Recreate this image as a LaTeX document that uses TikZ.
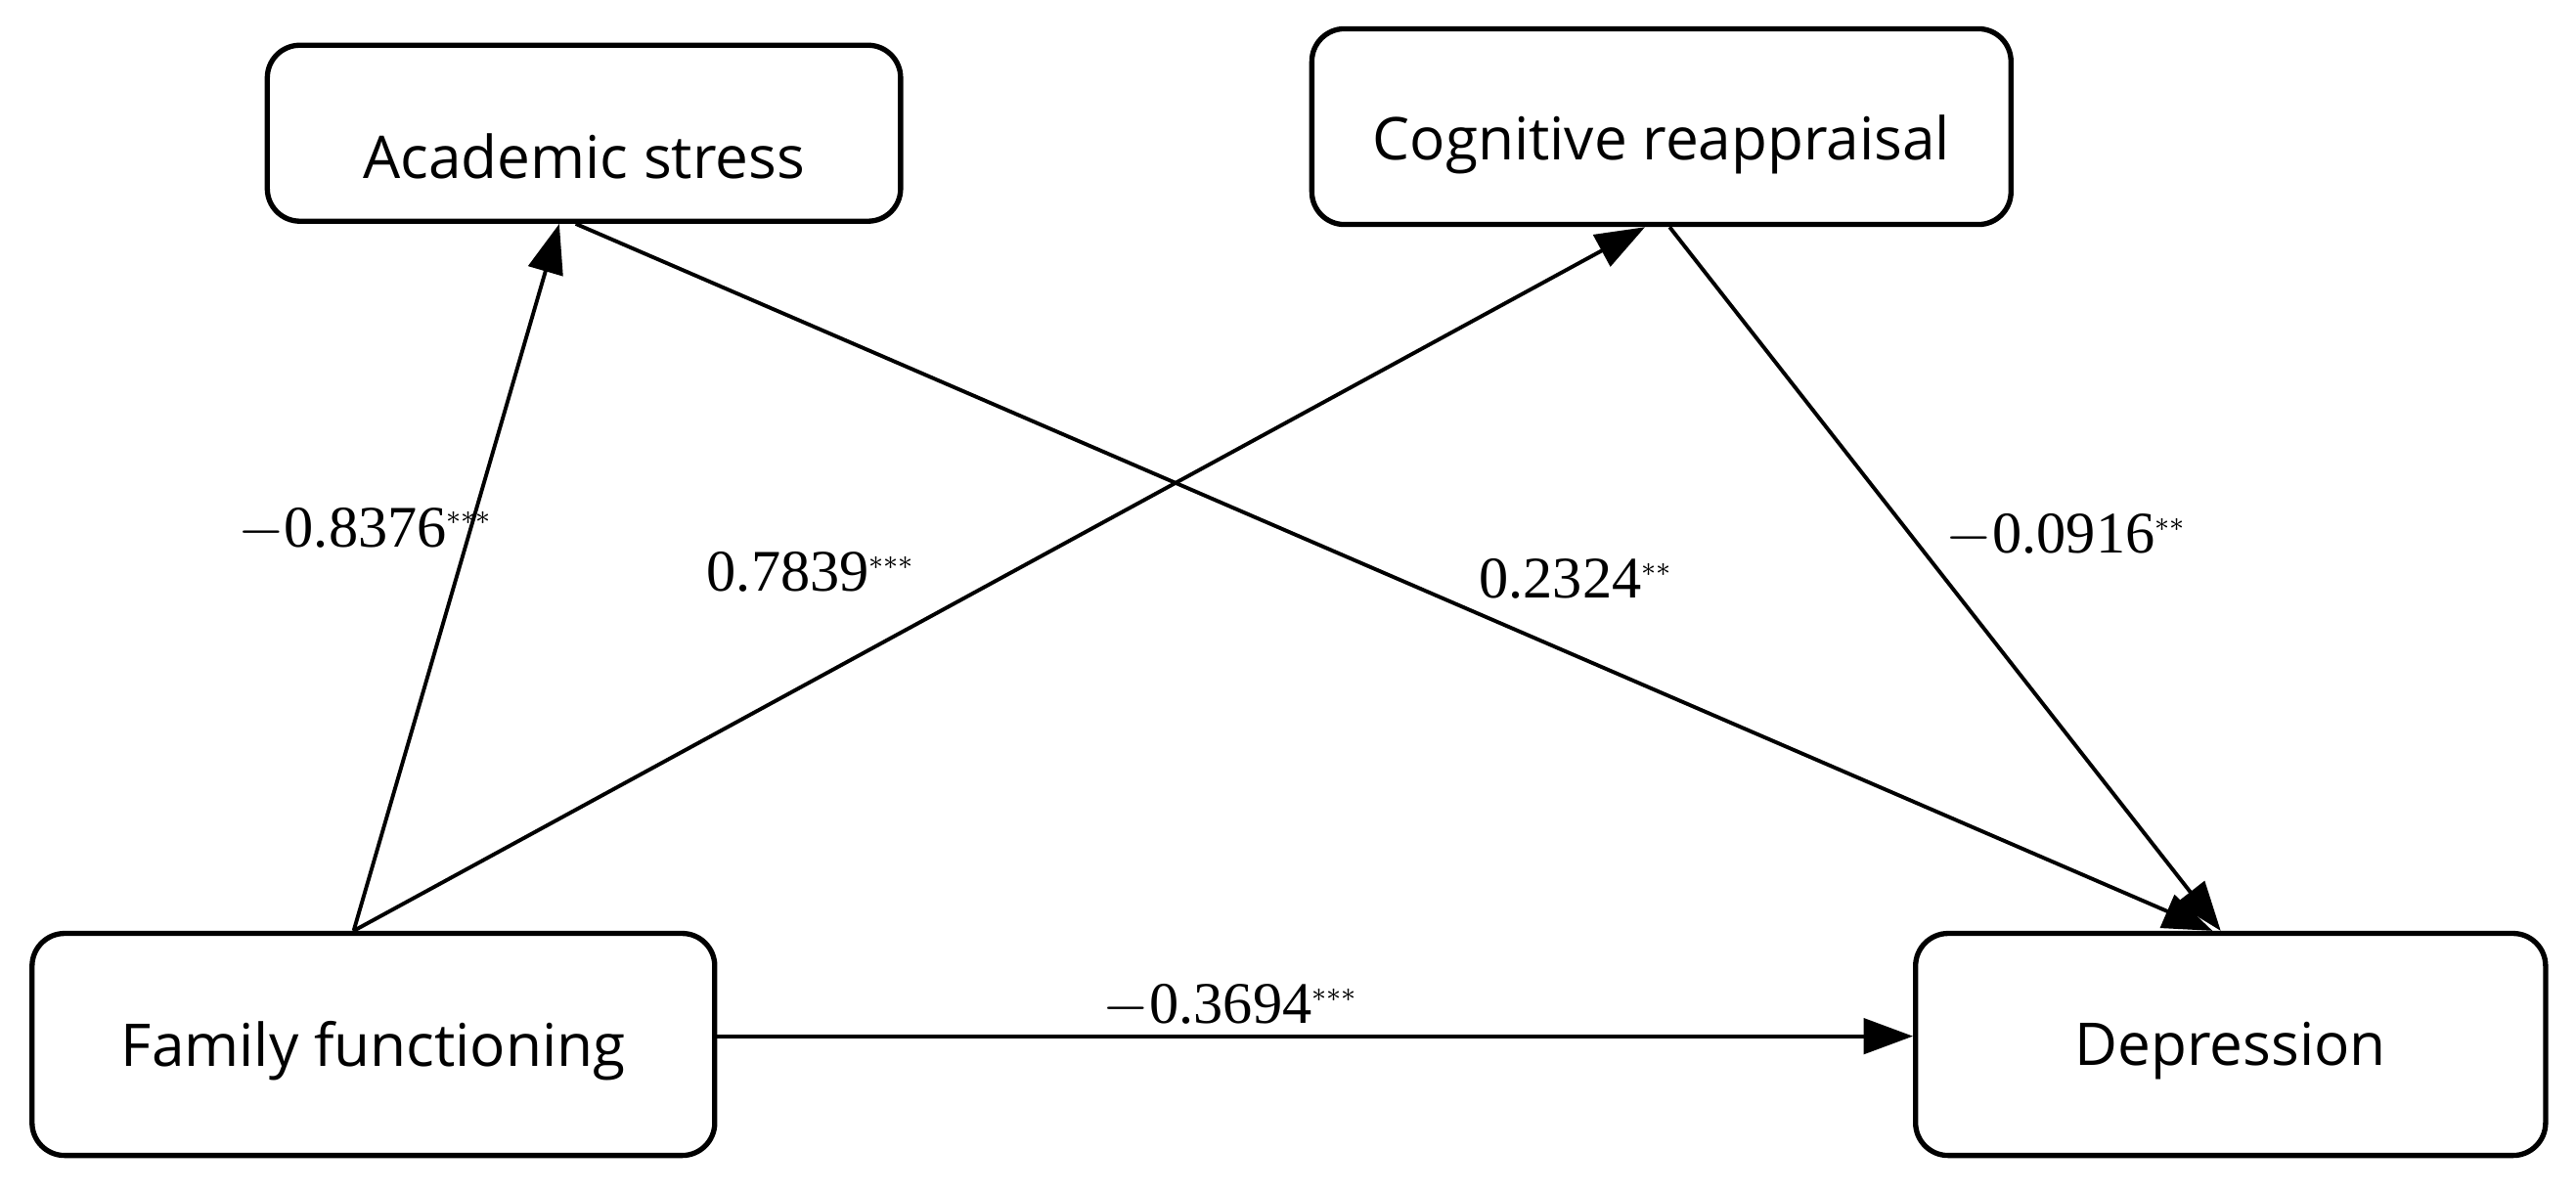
\documentclass[tikz,border=0pt]{standalone}
\usepackage{fontspec}
\setmainfont{Liberation Serif}
\newfontfamily\boxfont{Open Sans}
\usetikzlibrary{positioning,calc,arrows.meta}

\tikzset{
  var/.style={draw, line width=1.5pt, rounded corners=0.33cm, font=\boxfont\fontsize{17}{20}\selectfont},
  path/.style={line width=1.1pt, -{Triangle[length=0.5cm,width=0.36cm]}},
  coef/.style={font=\fontsize{17}{20}\selectfont}
}

\begin{document}
\begin{tikzpicture}[x=0.01667cm, y=-0.01667cm]
\useasboundingbox (0,0) rectangle (1566,725);

% Variables
\node[var, minimum width=385*0.01667cm, minimum height=107*0.01667cm] (as) at (355,81) {};
\node[var, minimum width=425*0.01667cm, minimum height=119*0.01667cm] (cr) at (1010,77) {};
\node[var, minimum width=415*0.01667cm, minimum height=135*0.01667cm] (ff) at (227,635) {};
\node[var, minimum width=383*0.01667cm, minimum height=135*0.01667cm] (dep) at (1356,635) {};
\node[var, draw=none] (asText) at ($(as)+(0,14)$) {Academic stress};
\node[var, draw=none] (crText) at ($(cr)+(0,11)$) {Cognitive reappraisal};
\node[var, draw=none] (ffText) at ($(ff)+(0,4)$) {Family functioning};
\node[var, draw=none] (depText) at ($(dep)+(0,4)$) {Depression};

% Paths
\coordinate (ffTop) at ($(ff.north)+(-12,0)$);
\draw[path] (ffTop) -- ($(as.south)+(-15,0)$);
\draw[path] (ffTop) -- ($(cr.south)+(-10,0)$);
\draw[path] ($(as.south)+(-5,0)$) -- ($(dep.north)+(-11,0)$);
\draw[path] ($(cr.south)+(5,0)$) -- ($(dep.north)+(-6,0)$);
\draw[path] ($(ff.east)+(0,-5)$) -- ($(dep.west)+(0,-5)$);

% Coefficients
\node[coef] (c1) at (222,322) {$-$0.8376$^{\scriptscriptstyle ***}$};
\node[coef] (c2) at (493,348) {0.7839$^{\scriptscriptstyle ***}$};
\node[coef] (c3) at (958,352) {0.2324$^{\scriptscriptstyle **}$};
\node[coef] (c4) at (1256,326) {$-$0.0916$^{\scriptscriptstyle **}$};
\node[coef] (c5) at (748,612) {$-$0.3694$^{\scriptscriptstyle ***}$};

\end{tikzpicture}
\end{document}
